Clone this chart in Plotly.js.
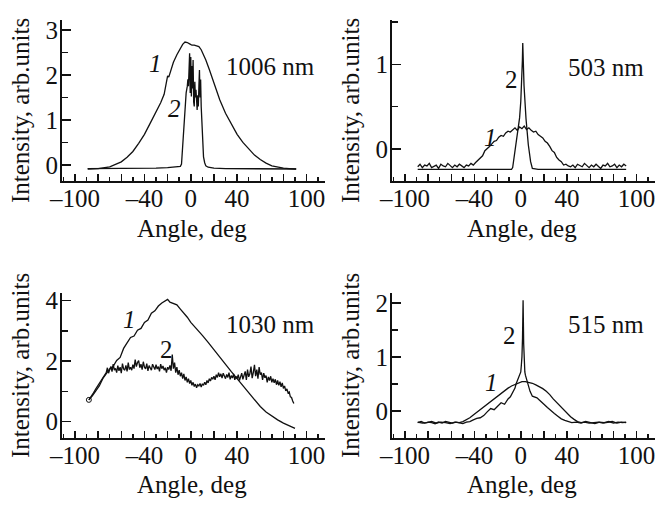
<!DOCTYPE html>
<html>
<head>
<meta charset="utf-8">
<script src="https://cdn.plot.ly/plotly-3.0.1.min.js"></script>
<style>html,body{margin:0;padding:0;background:#fff;}#chart{width:659px;height:506px;}</style>
</head>
<body>
<div id="chart"></div>
<script>
// ---------- data ----------
// shared axis ticks
const xTickVals = [-100,-80,-60,-40,-20,0,20,40,60,80,100];
const xTickText = ['–100','','','–40','','0','','40','','','100'];

// Panel 1: 1006 nm
const p1x1 = [-89,-80,-70,-60,-55,-50,-45,-40,-35,-30,-26,-23,-21,-20,-19,-17,-15,-12,-9,-7,-5,-3,-1,1,3,5,7,9,11,13,16,20,25,30,35,40,45,50,55,60,65,70,75,80,85,91];
const p1y1 = [-0.09,-0.08,-0.04,0.07,0.17,0.3,0.48,0.68,0.93,1.17,1.38,1.57,1.8,1.98,1.95,2.12,2.28,2.45,2.6,2.68,2.73,2.72,2.69,2.66,2.66,2.65,2.63,2.56,2.45,2.33,2.12,1.8,1.45,1.15,0.9,0.68,0.5,0.35,0.22,0.12,0.04,-0.02,-0.05,-0.07,-0.08,-0.09];
const p1x2 = [-89,-70,-50,-30,-20,-12,-9,-8,-7,-6,-5,-4,-3,-2.5,-2,-1.5,-1,-0.5,0,0.5,1,1.5,2,2.5,3,3.5,4,4.5,5,5.5,6,6.5,7,7.5,8,8.5,9,9.5,10,10.5,11,12,13,15,20,30,50,70,91];
const p1y2 = [-0.08,-0.08,-0.08,-0.07,-0.06,-0.04,-0.03,0.02,0.4,0.85,1.25,1.6,1.75,1.9,1.75,2.3,2.48,1.6,2.4,1.52,2.2,1.7,2.33,1.4,1.3,1.85,1.5,1.67,1.35,1.22,1.55,1.3,1.75,2.11,1.5,1.9,1.3,1.0,0.7,0.4,0.18,0.05,-0.02,-0.05,-0.07,-0.08,-0.08,-0.09,-0.09];

// Panel 2: 503 nm
const p2x1 = [-89,-87,-85,-83,-81,-79,-77,-75,-73,-71,-69,-67,-65,-63,-61,-59,-57,-55,-53,-51,-49,-47,-45,-43,-41,-39,-37,-35,-33,-31,-29,-27,-25,-23,-21,-19,-17,-15,-13,-11,-9,-7,-5,-3,-1,1,3,5,7,9,11,13,15,17,19,21,23,25,27,29,31,33,35,37,39,41,43,45,47,49,51,53,55,57,59,61,63,65,67,69,71,73,75,77,79,81,83,85,87,89,91];
const p2y1 = [-0.21,-0.18,-0.22,-0.19,-0.2,-0.17,-0.22,-0.2,-0.19,-0.23,-0.18,-0.2,-0.21,-0.17,-0.2,-0.22,-0.19,-0.21,-0.18,-0.2,-0.22,-0.19,-0.2,-0.17,
  -0.19,-0.16,-0.13,-0.1,-0.08,-0.02,0.0,0.03,0.06,0.09,0.1,0.14,0.16,0.15,0.19,0.21,0.2,0.23,0.25,0.22,0.26,
  0.24,0.27,0.23,0.25,0.22,0.2,0.21,0.17,0.15,0.13,0.09,0.07,0.03,-0.02,-0.04,-0.1,-0.13,-0.15,-0.19,-0.18,-0.2,
  -0.21,-0.19,-0.22,-0.18,-0.2,-0.21,-0.17,-0.2,-0.22,-0.19,-0.21,-0.18,-0.2,-0.23,-0.19,-0.2,-0.17,-0.21,-0.2,-0.18,-0.22,-0.19,-0.21,-0.18,-0.2];
const p2x2 = [-89,-60,-30,-15,-8,-7,-5,-3,-1,0,1,1.4,1.7,2,2.8,4.5,6.5,8.5,10,15,30,60,91];
const p2y2 = [-0.24,-0.24,-0.24,-0.24,-0.24,-0.22,0.0,0.2,0.37,0.56,0.8,1.05,1.25,1.0,0.75,0.36,0.05,-0.15,-0.23,-0.24,-0.24,-0.24,-0.24];

// Panel 3: 1030 nm
const p3x1 = [-88,-85,-82,-79,-76,-73,-70,-67,-64,-61,-58,-55,-52,-49,-46,-43,-40,-37,-34,-31,-28,-25,-22,-20,-18,-15,-12,-9,-6,-3,0,5,10,15,20,25,30,35,40,45,50,55,60,65,70,75,80,85,90];
const p3y1 = [0.72,0.85,1.02,1.18,1.42,1.58,1.74,1.83,2.02,2.12,2.42,2.6,2.78,2.83,3.02,3.08,3.28,3.36,3.58,3.66,3.82,3.92,4.0,4.04,3.95,3.9,3.86,3.72,3.6,3.45,3.28,3.08,2.85,2.62,2.37,2.13,1.9,1.65,1.42,1.18,0.95,0.72,0.5,0.32,0.18,0.06,-0.05,-0.14,-0.22];
const p3x2 = [-88,-86,-84,-82,-80,-78,-76,-74,
  -73,-72,-71,-70,-69,-68,-67,-66,-65,-64,
  -63,-62,-61,-60,-59,-58,-57,-56,-55,-54,
  -53,-52,-51,-50,-49,-48,-47,-46,-45,-44,
  -43,-42,-41,-40,-39,-38,-37,-36,-35,-34,
  -33,-32,-31,-30,-29,-28,-27,-26,-25,-24,
  -23,-22,-21,-20,-19,-18,-17,-16,-15,-14,
  -13,-12,-11,-10,-9,-8,-7,-6,-5,-4,
  -3,-2,-1,0,1,2,3,4,5,6,
  7,8,9,10,11,12,13,14,15,16,
  17,18,19,20,21,22,23,24,25,26,
  27,28,29,30,31,32,33,34,35,36,
  37,38,39,40,41,42,43,44,45,46,
  47,48,49,50,51,52,53,54,55,56,
  57,58,59,60,61,62,63,64,65,66,
  67,68,69,70,71,72,73,74,75,76,
  77,78,79,80,81,82,83,84,85,86,
  87,88,89];
const p3y2 = [0.72,0.82,0.95,1.08,1.2,1.32,1.45,1.55,
  1.62,1.78,1.6,1.72,1.82,1.65,1.9,1.7,1.76,1.62,
  1.85,1.68,1.8,1.6,1.92,1.74,1.7,1.86,1.66,1.95,
  1.72,1.8,1.7,1.88,1.75,2.05,1.82,1.95,2.02,1.78,
  1.9,1.72,1.98,1.8,1.74,1.92,1.68,1.85,1.76,1.7,
  1.9,1.8,1.72,1.88,1.74,1.82,1.66,1.9,1.75,1.84,
  1.7,1.78,1.62,1.8,1.72,1.86,1.68,2.22,1.75,1.95,
  1.62,1.8,1.55,1.7,1.5,1.62,1.42,1.58,1.36,1.48,
  1.3,1.42,1.26,1.36,1.2,1.3,1.16,1.24,1.12,1.22,
  1.18,1.26,1.14,1.25,1.2,1.3,1.22,1.36,1.28,1.42,
  1.34,1.46,1.4,1.5,1.38,1.55,1.46,1.62,1.48,1.58,
  1.44,1.6,1.5,1.42,1.56,1.46,1.62,1.4,1.52,1.44,
  1.58,1.38,1.5,1.42,1.55,1.36,1.48,1.6,1.4,1.52,
  1.66,1.38,1.72,1.48,1.58,1.82,1.44,1.62,1.88,1.5,
  1.72,1.42,1.8,1.55,1.62,1.38,1.6,1.45,1.52,1.3,
  1.48,1.36,1.5,1.3,1.42,1.28,1.4,1.22,1.36,1.2,
  1.32,1.15,1.28,1.1,1.18,1.02,1.08,0.95,0.98,0.82,
  0.8,0.68,0.6];

// Panel 4: 515 nm
const p4x1 = [-89,-85,-81,-77,-73,-69,-65,-61,-57,-53,-50,-47,-44,-41,-38,-35,-32,-29,-26,-23,-20,-17,-14,-11,-8,-5,-2,1,4,7,10,13,16,19,22,25,28,31,34,37,40,43,46,49,52,55,59,63,67,71,75,79,83,87,91];
const p4y1 = [-0.21,-0.23,-0.22,-0.2,-0.23,-0.21,-0.22,-0.24,-0.21,-0.22,
  -0.2,-0.17,-0.13,-0.08,-0.03,0.03,0.08,0.13,0.18,0.23,
  0.28,0.33,0.38,0.42,0.46,0.49,0.52,0.54,0.54,0.53,
  0.51,0.48,0.45,0.41,0.36,0.3,0.22,0.15,0.08,0.01,
  -0.05,-0.11,-0.16,-0.2,-0.22,-0.21,-0.23,-0.22,-0.21,-0.23,
  -0.22,-0.2,-0.23,-0.21,-0.22];
const p4x2 = [-89,-86,-83,-80,-77,-74,-71,-68,-65,-62,-59,-56,-53,-50,-47,-44,-41,-38,-35,-32,-29,-26,-23,-20,-17,-14,-11,-9,-7,-5,-4,-3,-2,-1,0,0.5,1,1.5,2,2.5,3,3.5,4,5,6,7,8,10,12,14,16,18,20,23,26,29,32,35,38,41,44,48,52,56,60,64,68,72,76,80,84,88,91];
const p4y2 = [-0.22,-0.2,-0.23,-0.21,-0.22,-0.24,-0.21,-0.23,-0.2,-0.22,
  -0.23,-0.21,-0.22,-0.24,-0.21,-0.2,-0.17,-0.14,-0.13,-0.09,
  -0.02,0.04,0.02,0.09,0.15,0.12,0.22,0.26,0.33,0.42,
  0.5,0.56,0.6,0.66,0.72,0.85,1.0,1.35,2.05,1.25,
  0.88,0.72,0.66,0.58,0.5,0.42,0.36,0.27,0.26,0.24,
  0.2,0.15,0.12,0.06,0.0,-0.05,-0.1,-0.15,-0.18,-0.2,
  -0.22,-0.21,-0.23,-0.2,-0.22,-0.24,-0.21,-0.22,-0.2,-0.23,
  -0.21,-0.22,-0.21];

// ---------- drawing ----------
const W = 659, H = 506;
const FONT = 'Liberation Serif, Times New Roman, serif';
const dX = (a, b) => [a / W, b / W];
const dY = (top, bot) => [1 - bot / H, 1 - top / H];

function line(x, y, xa, ya) {
  return {x: x, y: y, xaxis: xa, yaxis: ya, type: 'scatter', mode: 'lines',
          line: {color: '#111', width: 1.3}, showlegend: false, hoverinfo: 'skip'};
}
const traces = [
  line(p1x1, p1y1, 'x', 'y'), line(p1x2, p1y2, 'x', 'y'),
  line(p2x1, p2y1, 'x2', 'y2'), line(p2x2, p2y2, 'x2', 'y2'),
  line(p3x1, p3y1, 'x3', 'y3'), line(p3x2, p3y2, 'x3', 'y3'),
  line(p4x1, p4y1, 'x4', 'y4'), line(p4x2, p4y2, 'x4', 'y4'),
  {x: [p3x1[0]], y: [p3y1[0]], xaxis: 'x3', yaxis: 'y3', type: 'scatter', mode: 'markers',
   marker: {symbol: 'circle-open', size: 5, color: '#111', line: {width: 1}}, showlegend: false, hoverinfo: 'skip'}
];

function xAx(domain, anchor) {
  return {domain: domain, anchor: anchor, range: [-111.2, 115.9], automargin: false,
    tickmode: 'array', tickvals: xTickVals, ticktext: xTickText,
    ticks: 'inside', ticklen: 7, tickwidth: 1.5, tickcolor: '#111',
    minor: {tickmode: 'linear', tick0: 0, dtick: 10, ticks: 'inside', ticklen: 4, tickwidth: 1.5, tickcolor: '#111'},
    showline: true, linecolor: '#111', linewidth: 2, showgrid: false, zeroline: false,
    tickfont: {family: FONT, size: 25, color: '#111'}, ticklabelstandoff: -6};
}
function yAx(domain, anchor, range, vals, minorStep) {
  return {domain: domain, anchor: anchor, range: range, automargin: false,
    tickmode: 'array', tickvals: vals, ticktext: vals.map(String),
    ticks: 'inside', ticklen: 9, tickwidth: 1.5, tickcolor: '#111',
    minor: {tickmode: 'linear', tick0: 0, dtick: minorStep, ticks: 'inside', ticklen: 6, tickwidth: 1.5, tickcolor: '#111'},
    showline: true, linecolor: '#111', linewidth: 2, showgrid: false, zeroline: false,
    tickfont: {family: FONT, size: 25, color: '#111'}, ticklabelstandoff: -3};
}

function ann(text, px, py, extra) {
  return Object.assign({text: text, x: px / W, y: 1 - py / H, xref: 'paper', yref: 'paper',
    xanchor: 'center', yanchor: 'middle', showarrow: false,
    font: {family: FONT, size: 25, color: '#111'}}, extra || {});
}

const annotations = [
  ann('<i>1</i>', 155, 64), ann('<i>2</i>', 174, 108), ann('1006 nm', 270, 66),
  ann('2', 511, 79), ann('<i>1</i>', 491, 137), ann('503 nm', 606, 67),
  ann('<i>1</i>', 129, 319), ann('2', 166, 349), ann('1030 nm', 270, 324),
  ann('2', 509, 335), ann('<i>1</i>', 492, 382), ann('515 nm', 606, 324),
  ann('Angle, deg', 192, 228), ann('Angle, deg', 522, 228),
  ann('Angle, deg', 192, 484), ann('Angle, deg', 522, 484),
  ann('Intensity, arb.units', 20, 111, {textangle: -90}),
  ann('Intensity, arb.units', 350, 111, {textangle: -90}),
  ann('Intensity, arb.units', 20, 366, {textangle: -90}),
  ann('Intensity, arb.units', 350, 366, {textangle: -90})
];

const layout = {
  width: W, height: H, margin: {l: 0, r: 0, t: 0, b: 0},
  paper_bgcolor: '#fff', plot_bgcolor: '#fff', showlegend: false,
  font: {family: FONT, color: '#111'},
  xaxis: xAx(dX(62, 325), 'y'),
  yaxis: yAx(dY(20, 181), 'x', [-0.356, 3.22], [0, 1, 2, 3], 0.5),
  xaxis2: xAx(dX(392, 655), 'y2'),
  yaxis2: yAx(dY(20, 181), 'x2', [-0.378, 1.523], [0, 1], 0.5),
  xaxis3: xAx(dX(62, 325), 'y3'),
  yaxis3: yAx(dY(293.3, 437.7), 'x3', [-0.53, 4.24], [0, 2, 4], 1),
  xaxis4: xAx(dX(392, 655), 'y4'),
  yaxis4: yAx(dY(293.3, 437.7), 'x4', [-0.5, 2.18], [0, 1, 2], 0.5),
  annotations: annotations
};

Plotly.newPlot('chart', traces, layout, {displayModeBar: false, staticPlot: true});
</script>
</body>
</html>
